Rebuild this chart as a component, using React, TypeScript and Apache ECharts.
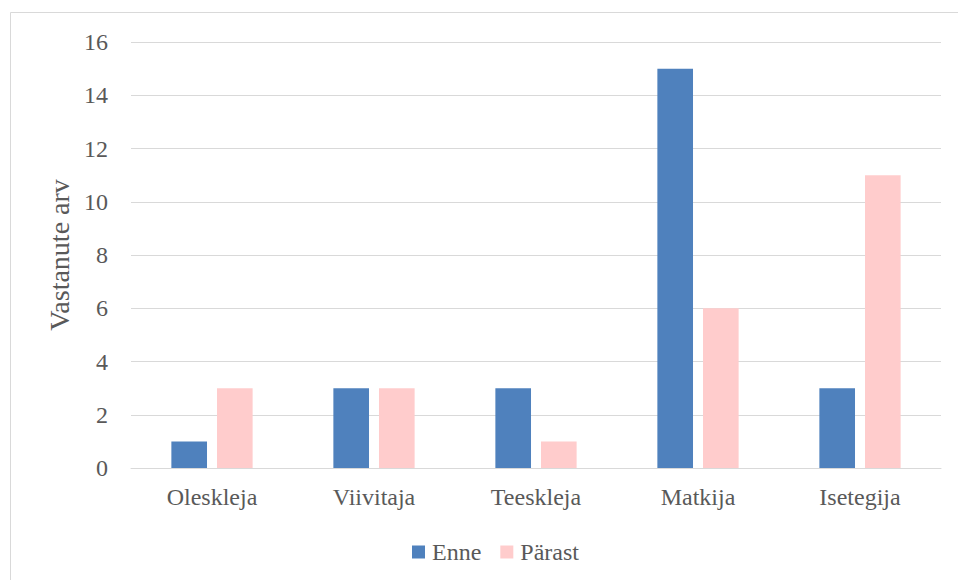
import React, { useEffect, useRef } from "react";
import * as echarts from "echarts";

const categories = ["Oleskleja", "Viivitaja", "Teeskleja", "Matkija", "Isetegija"];
const enne = [1, 3, 3, 15, 3];
const parast = [3, 3, 1, 6, 11];
const seriesNames = ["Enne", "Pärast"];

const FONT = "Liberation Serif";
const TEXT = "#595959";

export default function App() {
  const ref = useRef<HTMLDivElement>(null);
  useEffect(() => {
    const chart = echarts.init(ref.current!, null, { renderer: "svg" });
    chart.setOption({
      animation: false,
      backgroundColor: "#ffffff",
      textStyle: { fontFamily: FONT, color: TEXT },
      graphic: [
        {
          type: "rect",
          shape: { x: 10.5, y: 12.5, width: 1000, height: 1000 },
          style: { fill: "none", stroke: "#D9D9D9", lineWidth: 1 },
          silent: true,
        },
      ],
      grid: { left: 131, right: 17, top: 42, bottom: 112, containLabel: false },
      legend: {
        top: 535,
        left: 407,
        itemWidth: 13,
        itemHeight: 13,
        itemGap: 19,
        icon: "rect",
        textStyle: { fontFamily: FONT, color: TEXT, fontSize: 24, padding: [0, 0, 0, 2] },
        data: seriesNames,
      },
      xAxis: {
        type: "category",
        data: categories,
        axisLine: { lineStyle: { color: "#D9D9D9", width: 1 } },
        axisTick: { show: false },
        axisLabel: { fontFamily: FONT, color: TEXT, fontSize: 24, margin: 17 },
      },
      yAxis: {
        type: "value",
        min: 0,
        max: 16,
        interval: 2,
        name: "Vastanute arv",
        nameLocation: "middle",
        nameGap: 57,
        nameRotate: 90,
        nameTextStyle: { fontFamily: FONT, color: TEXT, fontSize: 28 },
        axisLine: { show: false },
        axisTick: { show: false },
        splitLine: { lineStyle: { color: "#D9D9D9", width: 1 } },
        axisLabel: { fontFamily: FONT, color: TEXT, fontSize: 24, margin: 23 },
      },
      series: [
        {
          name: seriesNames[0],
          type: "bar",
          data: enne,
          barWidth: "22%",
          barGap: "28%",
          itemStyle: { color: "#4F81BD" },
        },
        {
          name: seriesNames[1],
          type: "bar",
          data: parast,
          barWidth: "22%",
          barGap: "28%",
          itemStyle: { color: "#FFCCCC" },
        },
      ],
    });
    return () => chart.dispose();
  }, []);
  return <div ref={ref} style={{ width: 958, height: 580, position: "absolute", left: 0, top: 0 }} />;
}
